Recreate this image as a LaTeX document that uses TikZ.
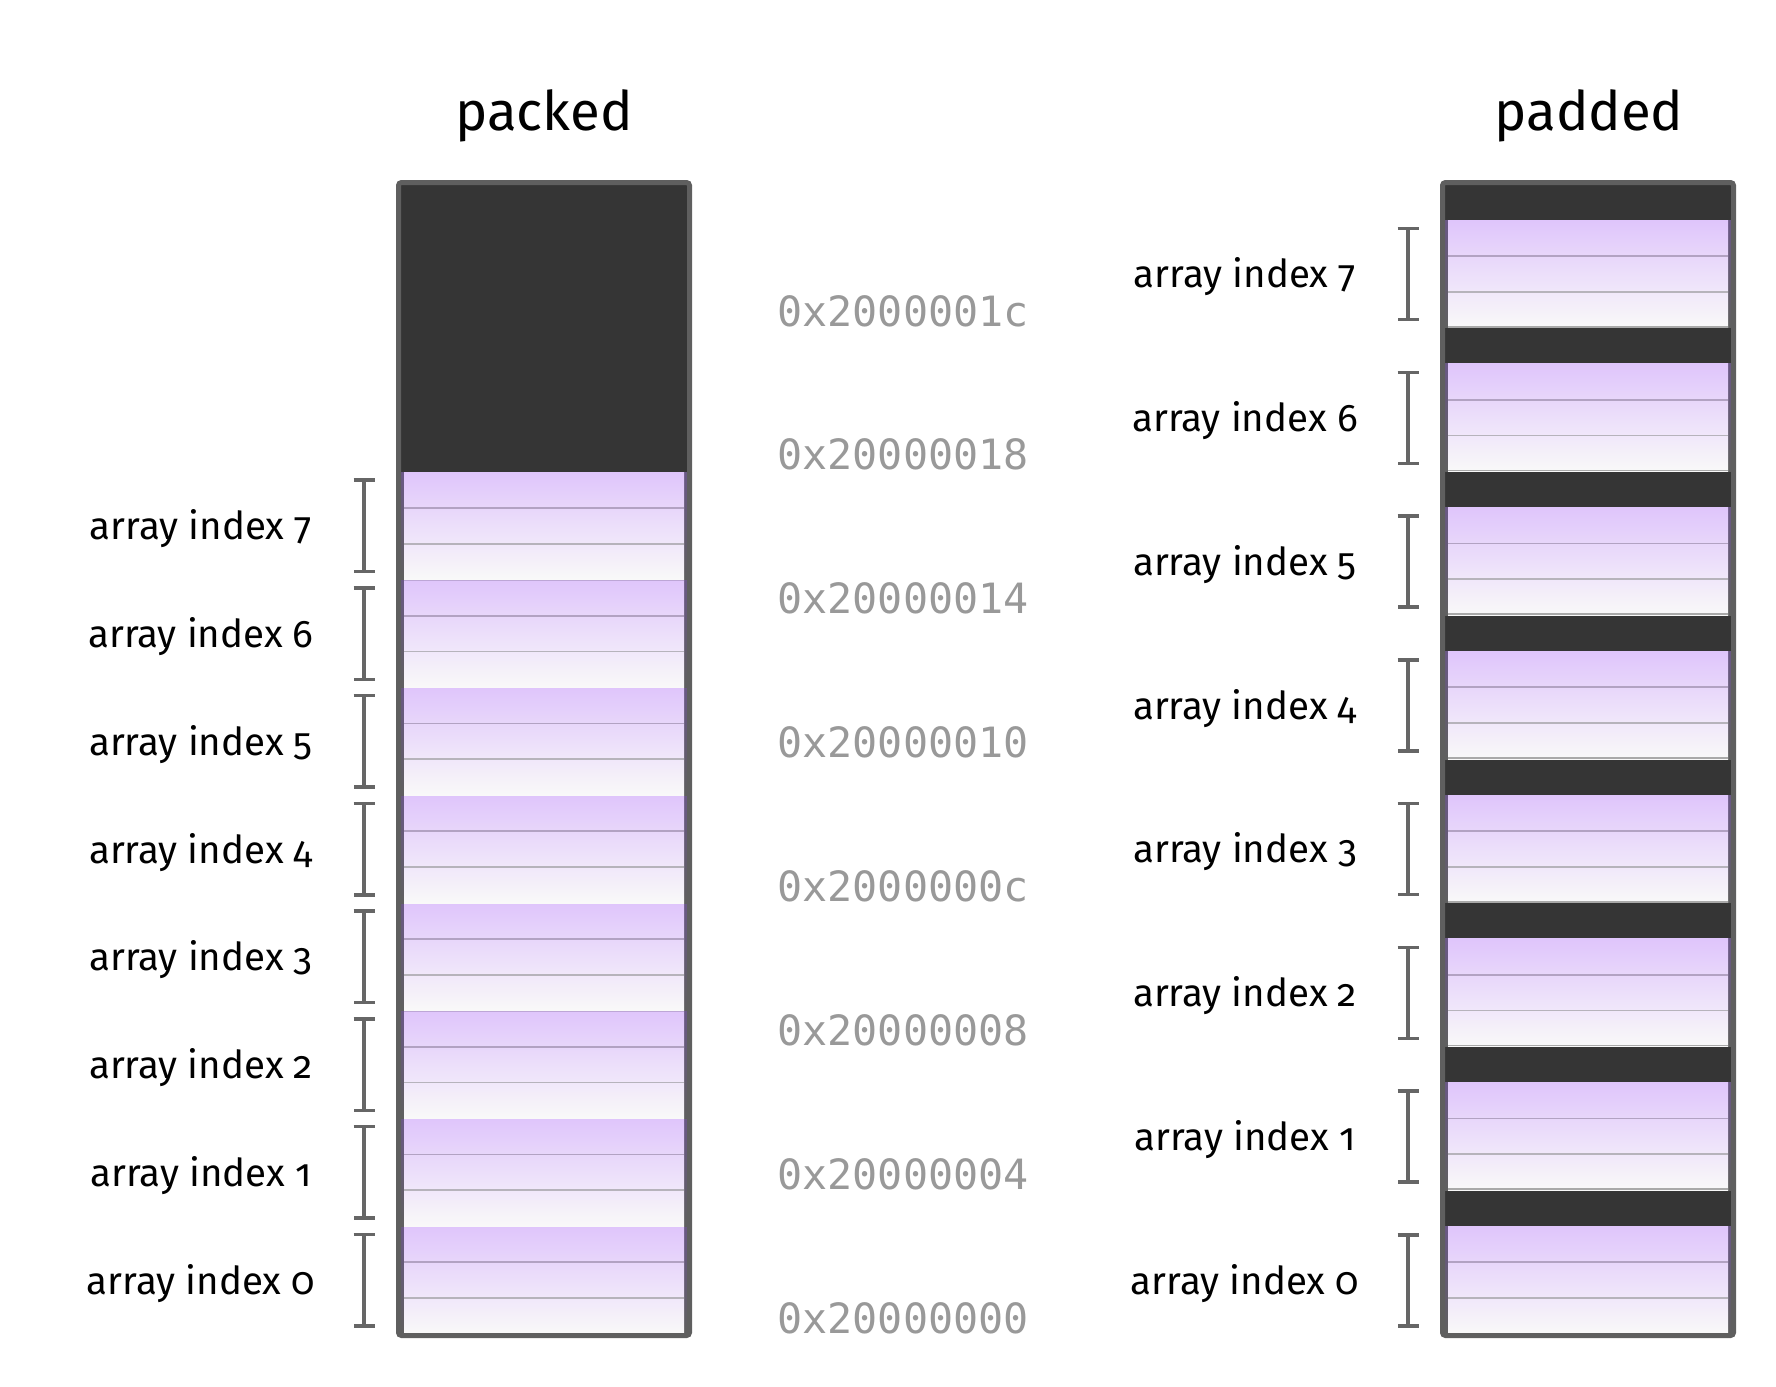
\documentclass[tikz,border=0pt]{standalone}
\usepackage{fontspec}
\setmainfont{Fira Sans}[Numbers=OldStyle]
\newfontfamily\addrfont{DejaVu Sans Mono}
\usetikzlibrary{arrows.meta}
\definecolor{boxborder}{HTML}{5F5F5F}
\definecolor{darkfill}{HTML}{353535}
\definecolor{purptop}{HTML}{DFC5FB}
\definecolor{purpbot}{HTML}{F9F9F9}
\definecolor{striptop}{HTML}{6A5886}
\definecolor{rowlineA}{HTML}{B2A2C2}
\definecolor{rowlineB}{HTML}{B6B3BB}
\definecolor{sepline}{HTML}{BDA6D6}
\definecolor{botline}{HTML}{A9A9A9}
\definecolor{addrgray}{HTML}{999999}
\definecolor{brackgray}{HTML}{666666}
\tikzset{
  titlelab/.style={font=\fontsize{54.5}{56}\selectfont, anchor=base, inner sep=0pt},
  idxlab/.style={font=\fontsize{38.5}{40}\selectfont, anchor=base, inner sep=0pt},
  addrlab/.style={font=\addrfont\fontsize{41.7}{43}\selectfont, text=addrgray, anchor=base, inner sep=0pt},
  brack/.style={draw=brackgray, line width=3.6pt, {Bar[width=21pt]}-{Bar[width=21pt]}},
  memframe/.style={draw=boxborder, line width=5pt, rounded corners=3pt},
  rowA/.style={draw=rowlineA, line width=1.8pt},
  rowB/.style={draw=rowlineB, line width=1.8pt},
}
\begin{document}
\begin{tikzpicture}[x=1pt,y=-1pt]
\useasboundingbox (0,0) rectangle (1776,1386);

% ---------- titles ----------
\node[titlelab] (packedtitle) at (544,130) {packed};
\node[titlelab] (paddedtitle) at (1589,130) {padded};

% ---------- packed column ----------
\fill[darkfill] (398.5,182.5) rectangle (689.5,1335.5);
\foreach \i in {0,...,7}{
  \pgfmathsetmacro\t{1334-(\i+1)*107.75}
  \pgfmathsetmacro\ra{\t+35.9}
  \pgfmathsetmacro\rb{\t+71.8}
  \pgfmathsetmacro\bt{\t+107.75}
  \pgfmathsetmacro\cy{\t+53.875}
  \shade[top color=striptop, bottom color=boxborder] (400,\t) rectangle (688,\bt);
  \shade[top color=purptop, bottom color=purpbot] (404,\t) rectangle (684,\bt);
  \draw[rowA] (404,\ra) -- (684,\ra);
  \draw[rowB] (404,\rb) -- (684,\rb);
  \ifnum\i<7 \draw[sepline, line width=1.6pt] (404,\t) -- (684,\t); \fi
  \node[idxlab] (pk\i) at (201,\cy+14) {array index \i};
  \coordinate (pkbt\i) at (364,\cy-47.5);
  \coordinate (pkbb\i) at (364,\cy+47.5);
  \draw[brack] (pkbt\i) -- (pkbb\i);
}
\draw[memframe] (398.5,182.5) rectangle (689.5,1335.5);

% ---------- padded column ----------
\fill[darkfill] (1442.5,182.5) rectangle (1733.5,1335.5);
\foreach \i in {0,...,7}{
  \pgfmathsetmacro\t{1334-107.75-\i*143.75}
  \pgfmathsetmacro\ra{\t+35.9}
  \pgfmathsetmacro\rb{\t+71.8}
  \pgfmathsetmacro\bt{\t+107.75}
  \pgfmathsetmacro\bl{\t+106.8}
  \pgfmathsetmacro\cy{\t+53.875}
  \shade[top color=striptop, bottom color=boxborder] (1444,\t) rectangle (1732,\bt);
  \shade[top color=purptop, bottom color=purpbot] (1448,\t) rectangle (1728,\bt);
  \draw[rowA] (1448,\ra) -- (1728,\ra);
  \draw[rowB] (1448,\rb) -- (1728,\rb);
  \ifnum\i>0 \draw[botline, line width=1.8pt] (1448,\bl) -- (1728,\bl); \fi
  \node[idxlab] (pd\i) at (1245,\cy+14) {array index \i};
  \coordinate (pdbt\i) at (1408,\cy-47);
  \coordinate (pdbb\i) at (1408,\cy+47.5);
  \draw[brack] (pdbt\i) -- (pdbb\i);
}
\draw[memframe] (1442.5,182.5) rectangle (1733.5,1335.5);

% ---------- addresses ----------
\foreach \a [count=\k from 0] in {2000001c,20000018,20000014,20000010,2000000c,20000008,20000004,20000000}{
  \pgfmathsetmacro\ay{311.5+\k*143.86+14.5}
  \node[addrlab] (addr\k) at (903,\ay) {0x\a};
}
\end{tikzpicture}
\end{document}
